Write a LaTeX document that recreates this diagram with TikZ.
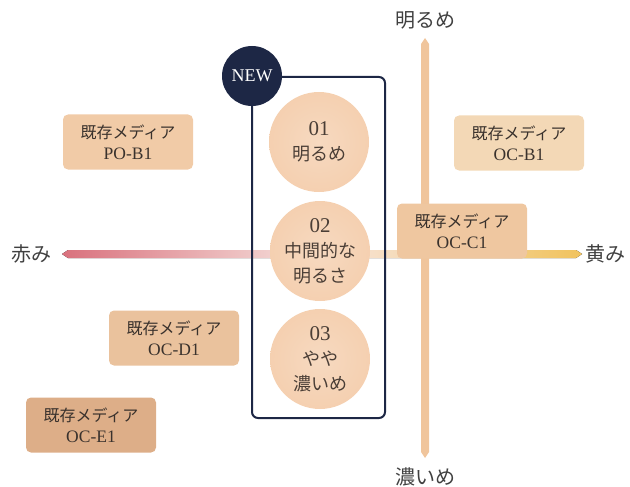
\documentclass[tikz,border=0pt]{standalone}
\usepackage{fontspec}
\setmainfont{Liberation Serif}
\newfontfamily\jp{Noto Sans CJK JP}
\definecolor{navy}{HTML}{1D2745}
\definecolor{tonefill}{HTML}{F1C096}
\definecolor{axistan}{HTML}{F0C59C}
\definecolor{redend}{HTML}{D9717D}
\definecolor{axismid}{HTML}{F7E6E1}
\definecolor{yellowend}{HTML}{F1C35E}
\definecolor{mediaA}{HTML}{F1CBA7}
\definecolor{mediaB}{HTML}{F3D8B6}
\definecolor{mediaC}{HTML}{EFC7A0}
\definecolor{mediaD}{HTML}{EAC29D}
\definecolor{mediaE}{HTML}{DDAE88}
\definecolor{boxtext}{HTML}{3A322D}
\definecolor{tonetext}{HTML}{4A3E36}
\definecolor{labeltext}{HTML}{404040}
\pgfdeclareradialshading{softdisc}{\pgfpoint{0bp}{0bp}}{color(0bp)=(tonefill!60!white); color(25bp)=(tonefill!75!white); color(42bp)=(tonefill); color(50bp)=(tonefill!10!white)}
\begin{document}
\begin{tikzpicture}[x=1pt,y=1pt,
    mediabox/.style={rounded corners=5pt, minimum width=130pt, minimum height=55pt, align=center, text=boxtext, font=\fontsize{17.5}{21}\selectfont},
    tone/.style={circle, minimum size=100pt, inner sep=0pt, shading=softdisc, align=center, text=tonetext, font=\fontsize{21}{25}\selectfont},
    jpsmall/.style={font=\jp\fontsize{16}{21}\selectfont},
    axislabel/.style={text=labeltext, font=\jp\fontsize{20}{24}\selectfont}]
    \useasboundingbox (0,0) rectangle (630,-487);
    \coordinate (hl) at (62,-254);
    \coordinate (hr) at (582,-254);
    \coordinate (vt) at (425,-38);
    \coordinate (vb) at (425,-458);
    \fill [left color=redend, right color=yellowend, middle color=axismid] (hl) -- ++(6,4) -- ++(508,0) -- (hr) -- ++(-6,-4) -- ++(-508,0) -- cycle;
    \fill [axistan] (vt) -- ++(4,-6) -- ++(0,-408) -- (vb) -- ++(-4,6) -- ++(0,408) -- cycle;
    \draw [navy, line width=2pt, rounded corners=6pt] (252,-77) rectangle (385,-418);
    \node [circle, fill=navy, minimum size=60pt, inner sep=0pt, text=white, font=\fontsize{18}{18}\selectfont] (new) at (252,-76) {NEW};
    \node [tone] (tone1) at (319,-142) {01\\{\jp\fontsize{18}{25}\selectfont 明るめ}};
    \node [tone] (tone2) at (320,-251) {02\\{\jp\fontsize{18}{25}\selectfont 中間的な}\\{\jp\fontsize{18}{25}\selectfont 明るさ}};
    \node [tone] (tone3) at (320,-359) {03\\{\jp\fontsize{18}{25}\selectfont やや}\\{\jp\fontsize{18}{25}\selectfont 濃いめ}};
    \node [mediabox, fill=mediaA] (pob1) at (128,-142) {{\jp\fontsize{16}{21}\selectfont 既存メディア}\\PO-B1};
    \node [mediabox, fill=mediaB] (ocb1) at (519,-143) {{\jp\fontsize{16}{21}\selectfont 既存メディア}\\OC-B1};
    \node [mediabox, fill=mediaC] (occ1) at (462,-231) {{\jp\fontsize{16}{21}\selectfont 既存メディア}\\OC-C1};
    \node [mediabox, fill=mediaD] (ocd1) at (174,-338) {{\jp\fontsize{16}{21}\selectfont 既存メディア}\\OC-D1};
    \node [mediabox, fill=mediaE] (oce1) at (91,-425) {{\jp\fontsize{16}{21}\selectfont 既存メディア}\\OC-E1};
    \node [axislabel] (bright) at (425,-20) {明るめ};
    \node [axislabel] (deep) at (425,-477) {濃いめ};
    \node [axislabel] (reddish) at (32,-254) {赤み};
    \node [axislabel] (yellowish) at (605,-254) {黄み};
\end{tikzpicture}
\end{document}
